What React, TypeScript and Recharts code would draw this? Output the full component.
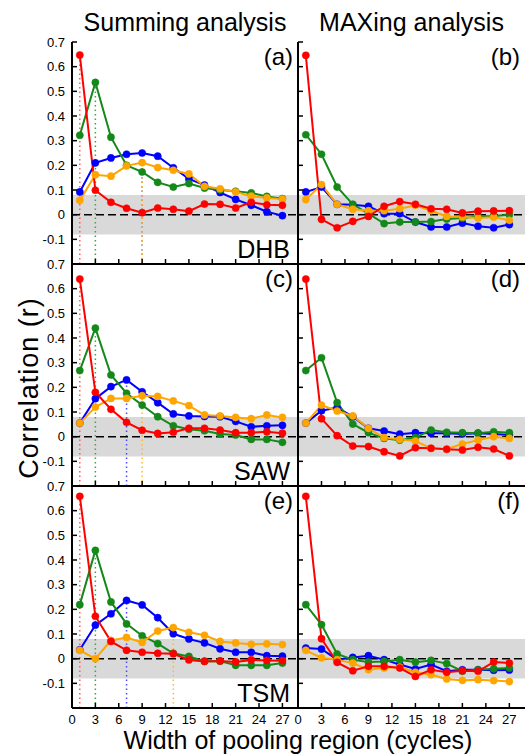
import React from 'react';
import { LineChart, Line, XAxis, YAxis, ReferenceLine, ReferenceArea } from 'recharts';

// Pooling widths (cycles)
const widths = [1, 3, 5, 7, 9, 11, 13, 15, 17, 19, 21, 23, 25, 27];
const xTicks = [0, 3, 6, 9, 12, 15, 18, 21, 24, 27];
const yTicks = [-0.1, 0, 0.1, 0.2, 0.3, 0.4, 0.5, 0.6, 0.7];

const columnTitles = ['Summing analysis', 'MAXing analysis'];
const stimulusNames = ['DHB', 'SAW', 'TSM'];
const panelLetters = ['(a)', '(b)', '(c)', '(d)', '(e)', '(f)'];
const xTitle = 'Width of pooling region (cycles)';
const yTitle = 'Correlation (r)';

// (a) DHB summing
const dhbSumRed = [0.647, 0.099, 0.05, 0.026, 0.008, 0.027, 0.022, 0.014, 0.043, 0.042, 0.027, 0.05, 0.04, 0.038];
const dhbSumGreen = [0.322, 0.536, 0.314, 0.2, 0.173, 0.131, 0.112, 0.126, 0.108, 0.1, 0.095, 0.088, 0.074, 0.065];
const dhbSumBlue = [0.092, 0.21, 0.23, 0.245, 0.25, 0.237, 0.19, 0.145, 0.12, 0.09, 0.062, 0.038, 0.012, -0.004];
const dhbSumOrange = [0.058, 0.162, 0.156, 0.198, 0.211, 0.191, 0.18, 0.165, 0.115, 0.105, 0.092, 0.075, 0.068, 0.063];

// (b) DHB MAXing
const dhbMaxRed = [0.646, -0.019, -0.053, -0.027, -0.007, 0.034, 0.053, 0.042, 0.024, 0.022, 0.007, 0.014, 0.015, 0.016];
const dhbMaxGreen = [0.324, 0.245, 0.112, 0.042, 0.004, -0.036, -0.03, -0.03, -0.028, -0.018, -0.014, -0.007, -0.005, 0];
const dhbMaxBlue = [0.092, 0.112, 0.042, 0.04, 0.034, 0.004, 0.004, -0.03, -0.05, -0.05, -0.034, -0.047, -0.053, -0.04];
const dhbMaxOrange = [0.061, 0.122, 0.042, 0.022, 0.016, 0.016, 0.024, 0.038, 0.016, -0.007, -0.009, -0.014, -0.01, -0.023];

// (c) SAW summing
const sawSumRed = [0.639, 0.18, 0.111, 0.058, 0.026, 0.013, 0.018, 0.034, 0.034, 0.027, 0.016, 0.016, 0.02, 0.014];
const sawSumGreen = [0.268, 0.44, 0.25, 0.176, 0.128, 0.081, 0.044, 0.03, 0.024, 0.011, 0.007, -0.011, -0.011, -0.023];
const sawSumBlue = [0.055, 0.154, 0.203, 0.23, 0.182, 0.138, 0.092, 0.084, 0.082, 0.081, 0.062, 0.04, 0.044, 0.046];
const sawSumOrange = [0.055, 0.12, 0.155, 0.155, 0.166, 0.163, 0.145, 0.126, 0.088, 0.084, 0.078, 0.073, 0.088, 0.078];

// (d) SAW MAXing
const sawMaxRed = [0.639, 0.073, 0.004, -0.038, -0.04, -0.061, -0.078, -0.045, -0.047, -0.051, -0.054, -0.043, -0.05, -0.078];
const sawMaxGreen = [0.268, 0.32, 0.138, 0.051, 0.016, -0.007, -0.014, -0.004, 0.027, 0.018, 0.016, 0.014, 0.02, 0.016];
const sawMaxBlue = [0.055, 0.105, 0.118, 0.081, 0.034, 0.023, 0.01, 0.016, 0.014, 0.014, 0.011, 0.014, 0.011, 0.007];
const sawMaxOrange = [0.055, 0.128, 0.104, 0.084, 0.034, -0.004, -0.011, -0.018, -0.047, -0.05, -0.03, -0.014, 0, -0.007];

// (e) TSM summing
const tsmSumRed = [0.658, 0.172, 0.07, 0.034, 0.026, 0.022, 0.02, -0.005, -0.011, -0.009, -0.013, -0.005, -0.007, -0.008];
const tsmSumGreen = [0.219, 0.439, 0.23, 0.141, 0.093, 0.061, 0.022, 0.009, -0.01, -0.01, -0.027, -0.027, -0.027, -0.018];
const tsmSumBlue = [0.036, 0.136, 0.182, 0.236, 0.218, 0.166, 0.101, 0.08, 0.064, 0.04, 0.026, 0.026, 0.012, 0.01];
const tsmSumOrange = [0.034, 0, 0.074, 0.086, 0.066, 0.112, 0.126, 0.107, 0.095, 0.07, 0.064, 0.058, 0.06, 0.057];

// (f) TSM MAXing
const tsmMaxRed = [0.658, 0.081, -0.015, -0.049, -0.031, -0.031, -0.038, -0.072, -0.045, -0.055, -0.049, -0.051, -0.014, -0.018];
const tsmMaxGreen = [0.219, 0.138, 0.019, -0.004, -0.014, -0.011, -0.004, -0.014, -0.007, -0.02, -0.051, -0.045, -0.041, -0.038];
const tsmMaxBlue = [0.043, 0.039, -0.004, 0.005, 0.012, -0.004, -0.024, -0.042, -0.024, -0.051, -0.045, -0.045, -0.047, -0.046];
const tsmMaxOrange = [0.034, 0.003, -0.004, -0.018, -0.045, -0.038, -0.034, -0.055, -0.065, -0.082, -0.088, -0.085, -0.089, -0.093];

const COLORS: Record<string, string> = {
  red: '#ff0000',
  green: '#14891a',
  blue: '#0000ff',
  orange: '#ffa500',
};
const DOT_COLORS: Record<string, string> = {
  red: '#ff5a5a',
  green: '#3fa63f',
  blue: '#4a4aff',
  orange: '#ffb733',
};
const SERIES_ORDER = ['blue', 'green', 'orange', 'red'];
const FONT = '"Liberation Sans", Arial, Helvetica, sans-serif';

const PLOT_LEFTS = [72, 298];
const PLOT_WIDTHS = [226, 227];
const ROW_TOPS = [42, 264, 486];
const PLOT_H = 222;
const LEFT_AREA = 72;
const TOP_M = 10;
const RIGHT_M = 10;
const BOTTOM_AREA = 30;
const TICK_LEN = 5;

type PanelSeries = { red: number[]; green: number[]; blue: number[]; orange: number[] };

const panels: { series: PanelSeries; col: number; row: number; summing: boolean }[] = [
  { series: { red: dhbSumRed, green: dhbSumGreen, blue: dhbSumBlue, orange: dhbSumOrange }, col: 0, row: 0, summing: true },
  { series: { red: dhbMaxRed, green: dhbMaxGreen, blue: dhbMaxBlue, orange: dhbMaxOrange }, col: 1, row: 0, summing: false },
  { series: { red: sawSumRed, green: sawSumGreen, blue: sawSumBlue, orange: sawSumOrange }, col: 0, row: 1, summing: true },
  { series: { red: sawMaxRed, green: sawMaxGreen, blue: sawMaxBlue, orange: sawMaxOrange }, col: 1, row: 1, summing: false },
  { series: { red: tsmSumRed, green: tsmSumGreen, blue: tsmSumBlue, orange: tsmSumOrange }, col: 0, row: 2, summing: true },
  { series: { red: tsmMaxRed, green: tsmMaxGreen, blue: tsmMaxBlue, orange: tsmMaxOrange }, col: 1, row: 2, summing: false },
];

const bottomTick = (showLabel: boolean) => (props: any) => {
  const { x, y, payload } = props;
  return (
    <g>
      <line x1={x} x2={x} y1={y} y2={y - TICK_LEN} stroke="#000" strokeWidth={1.5} />
      {showLabel && (
        <text x={x} y={y + 16} textAnchor="middle" fontSize={13} fontFamily={FONT} fill="#000">
          {String(payload.value)}
        </text>
      )}
    </g>
  );
};

const topTick = (props: any) => {
  const { x, y } = props;
  return <line x1={x} x2={x} y1={y} y2={y + TICK_LEN} stroke="#000" strokeWidth={1.5} />;
};

const leftTick = (showLabel: boolean) => (props: any) => {
  const { x, y, payload } = props;
  return (
    <g>
      <line x1={x} x2={x + TICK_LEN} y1={y} y2={y} stroke="#000" strokeWidth={1.5} />
      {showLabel && (
        <text x={x - 7} y={y + 4.5} textAnchor="end" fontSize={13} fontFamily={FONT} fill="#000">
          {String(payload.value)}
        </text>
      )}
    </g>
  );
};

const rightTick = (props: any) => {
  const { x, y } = props;
  return <line x1={x} x2={x - TICK_LEN} y1={y} y2={y} stroke="#000" strokeWidth={1.5} />;
};

function Panel({ series, col, row, summing }: { series: PanelSeries; col: number; row: number; summing: boolean }) {
  const data = widths.map((w, i) => ({
    w,
    red: series.red[i],
    green: series.green[i],
    blue: series.blue[i],
    orange: series.orange[i],
  }));
  const plotW = PLOT_WIDTHS[col];
  const width = LEFT_AREA + plotW + RIGHT_M;
  const height = TOP_M + PLOT_H + BOTTOM_AREA;
  const left = PLOT_LEFTS[col] - LEFT_AREA;
  const top = ROW_TOPS[row] - TOP_M;

  const peaks = summing
    ? SERIES_ORDER.map((k) => {
        const arr = (series as any)[k] as number[];
        let bi = 0;
        arr.forEach((v, i) => {
          if (v > arr[bi]) bi = i;
        });
        return { key: k, x: widths[bi], y: arr[bi] };
      }).sort((a, b) => b.y - a.y)
    : [];

  return (
    <div style={{ position: 'absolute', left, top, width, height }}>
      <LineChart width={width} height={height} data={data} margin={{ top: TOP_M, right: RIGHT_M, bottom: 0, left: 0 }}>
        <XAxis
          dataKey="w"
          type="number"
          domain={[0, 29]}
          ticks={xTicks}
          interval={0}
          allowDataOverflow
          height={BOTTOM_AREA}
          tickSize={0}
          tickMargin={0}
          tickLine={false}
          axisLine={{ stroke: '#000', strokeWidth: 2 }}
          tick={bottomTick(row === 2)}
        />
        <XAxis
          xAxisId="top"
          orientation="top"
          dataKey="w"
          type="number"
          domain={[0, 29]}
          ticks={xTicks}
          interval={0}
          allowDataOverflow
          height={0}
          tickSize={0}
          tickMargin={0}
          tickLine={false}
          axisLine={{ stroke: '#000', strokeWidth: 2 }}
          tick={topTick}
        />
        <YAxis
          type="number"
          domain={[-0.2, 0.7]}
          ticks={yTicks}
          interval={0}
          allowDataOverflow
          width={LEFT_AREA}
          tickSize={0}
          tickMargin={0}
          tickLine={false}
          axisLine={{ stroke: '#000', strokeWidth: 2 }}
          tick={leftTick(col === 0)}
        />
        <YAxis
          yAxisId="right"
          orientation="right"
          type="number"
          domain={[-0.2, 0.7]}
          ticks={yTicks}
          interval={0}
          allowDataOverflow
          width={0}
          tickSize={0}
          tickMargin={0}
          tickLine={false}
          axisLine={{ stroke: '#000', strokeWidth: 2 }}
          tick={rightTick}
        />
        <ReferenceArea y1={-0.08} y2={0.08} fill="#d9d9d9" fillOpacity={1} stroke="none" ifOverflow="hidden" />
        {peaks.map((p) => (
          <ReferenceLine
            key={'pk' + p.key}
            segment={[
              { x: p.x, y: -0.2 },
              { x: p.x, y: p.y },
            ]}
            stroke={DOT_COLORS[p.key]}
            strokeOpacity={1}
            strokeWidth={1.5}
            strokeDasharray="1.5 3"
          />
        ))}
        <ReferenceLine y={0} stroke="#000" strokeWidth={1.5} strokeDasharray="8 4" />
        {SERIES_ORDER.map((k) => (
          <Line
            key={k}
            dataKey={k}
            stroke={COLORS[k]}
            strokeWidth={2}
            dot={{ r: 3.6, fill: COLORS[k], stroke: COLORS[k], strokeWidth: 0.5 }}
            activeDot={false}
            isAnimationActive={false}
          />
        ))}
      </LineChart>
    </div>
  );
}

export default function App() {
  return (
    <div style={{ position: 'absolute', left: 0, top: 0, width: 528, height: 756, background: '#fff', overflow: 'hidden' }}>
      {panels.map((p, i) => (
        <Panel key={i} {...p} />
      ))}
      <svg width={528} height={756} style={{ position: 'absolute', left: 0, top: 0, pointerEvents: 'none' }}>
        <g fontFamily={FONT} fill="#000">
          {columnTitles.map((t, c) => (
            <text key={t} x={PLOT_LEFTS[c] + PLOT_WIDTHS[c] / 2} y={31} textAnchor="middle" fontSize={25}>
              {t}
            </text>
          ))}
          {panelLetters.map((l, i) => {
            const c = i % 2;
            const r = Math.floor(i / 2);
            return (
              <text key={l} x={PLOT_LEFTS[c] + PLOT_WIDTHS[c] - 5} y={ROW_TOPS[r] + 23} textAnchor="end" fontSize={24}>
                {l}
              </text>
            );
          })}
          {stimulusNames.map((s, r) => (
            <text key={s} x={PLOT_LEFTS[0] + PLOT_WIDTHS[0] - 8} y={ROW_TOPS[r] + PLOT_H - 6} textAnchor="end" fontSize={25}>
              {s}
            </text>
          ))}
          <text x={298} y={749} textAnchor="middle" fontSize={25}>
            {xTitle}
          </text>
          <text transform="translate(38,388) rotate(-90)" textAnchor="middle" fontSize={27} letterSpacing={1}>
            {yTitle}
          </text>
        </g>
      </svg>
    </div>
  );
}
